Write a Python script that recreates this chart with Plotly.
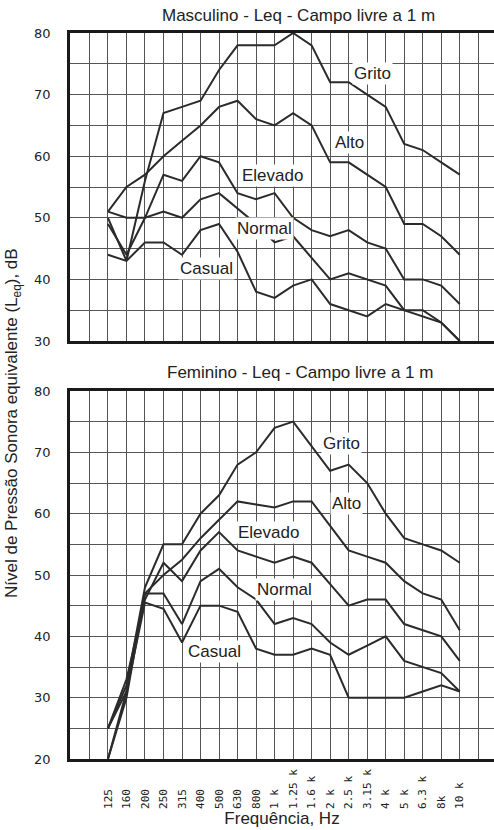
import plotly.graph_objects as go

freqs = ["125", "160", "200", "250", "315", "400", "500", "630", "800", "1 k",
         "1.25 k", "1.6 k", "2 k", "2.5 k", "3.15 k", "4 k", "5 k", "6.3 k", "8k", "10 k"]

# Masculino
m_grito   = [50, 43, 56, 67, 68, 69, 74, 78, 78, 78, 80, 78, 72, 72, 70, 68, 62, 61, 59, 57]
m_alto    = [51, 55, 57, 60, 62.5, 65, 68, 69, 66, 65, 67, 65, 59, 59, 57, 55, 49, 49, 47, 44]
m_elevado = [49, 44, 50, 57, 56, 60, 59, 54, 53, 54, 50, 48, 47, 48, 46, 45, 40, 40, 39, 36]
m_normal  = [51, 50, 50, 51, 50, 53, 54, 51.5, 49, 46, 47, 43.5, 40, 41, 40, 39, 35, 35, 33, 30]
m_casual  = [44, 43, 46, 46, 44, 48, 49, 44.5, 38, 37, 39, 40, 36, 35, 34, 36, 35, 34, 33, 30]

# Feminino
f_grito   = [25, 32, 48, 55, 55, 60, 63, 68, 70, 74, 75, 71, 67, 68, 65, 60, 56, 55, 54, 52]
f_alto    = [20, 31, 47, 50, 52.5, 56, 59, 62, 61.5, 61, 62, 62, 58, 54, 53, 52, 49, 47, 46, 41]
f_elevado = [25, 33, 46, 52, 49, 54, 57, 54, 53, 52, 53, 52, 48.5, 45, 46, 46, 42, 41, 40, 36]
f_normal  = [20, 30, 47, 47, 42, 49, 51, 48, 46, 42, 43, 42, 39, 37, 38.5, 40, 36, 35, 34, 31]
f_casual  = [25, 31, 45.5, 44.5, 39, 45, 45, 44, 38, 37, 37, 38, 37, 30, 30, 30, 30, 31, 32, 31]

series_names = ["Grito", "Alto", "Elevado", "Normal", "Casual"]
masc = [m_grito, m_alto, m_elevado, m_normal, m_casual]
fem = [f_grito, f_alto, f_elevado, f_normal, f_casual]

# label positions (x index, dB)
m_label_pos = [(14.3, 73.5), (13.06, 62.3), (8.9, 56.9), (8.47, 48.3), (5.34, 41.85)]
f_label_pos = [(12.63, 71.5), (12.9, 61.6), (8.69, 56.85), (9.55, 47.7), (5.77, 37.6)]

xidx = list(range(len(freqs)))

W, H = 494, 830
L, R, T, B = 70, 0, 33, 71
ph = H - T - B
top_dom = [(759 - 341) / ph, 1.0]
bot_dom = [0.0, (759 - 391) / ph]

fig = go.Figure()

line_col = "#2b2b2b"
for vals in masc:
    fig.add_trace(go.Scatter(x=xidx, y=vals, mode="lines", xaxis="x", yaxis="y",
                             line=dict(color=line_col, width=2), showlegend=False, hoverinfo="skip"))
for vals in fem:
    fig.add_trace(go.Scatter(x=xidx, y=vals, mode="lines", xaxis="x2", yaxis="y2",
                             line=dict(color=line_col, width=2), showlegend=False, hoverinfo="skip"))

grid_col = "#555555"
tick_font = dict(family="DejaVu Sans", size=13, color="#222")
xt_vals = [-2, -1] + xidx + [20, 21]
maxlen = max(len(f) for f in freqs)
padded = [f + "\u00a0" * (maxlen - len(f)) for f in freqs]
xt_text_bottom = ["", ""] + padded + ["", ""]

xcommon = dict(range=[-2.05, 20.85], tickmode="array", tickvals=xt_vals,
               showgrid=True, gridcolor=grid_col, gridwidth=1.4,
               showline=True, linecolor="#1a1a1a", linewidth=2.5, mirror=True,
               zeroline=False, ticks="")

txt_font = dict(family="Liberation Sans", size=17, color="#222")

fig.update_layout(
    width=W, height=H,
    margin=dict(l=L, r=R, t=T, b=B, pad=0),
    paper_bgcolor="white", plot_bgcolor="white",
    xaxis=dict(**xcommon, domain=[0, 1], anchor="y", ticktext=[""] * len(xt_vals),
               showticklabels=False),
    yaxis=dict(domain=top_dom, anchor="x", range=[30, 80],
               tickmode="array", tickvals=list(range(30, 81, 5)),
               ticktext=[str(v) if v % 10 == 0 else "" for v in range(30, 81, 5)],
               showgrid=True, gridcolor=grid_col, gridwidth=1.4,
               showline=True, linecolor="#1a1a1a", linewidth=2.5, zeroline=False,
               ticks="", tickfont=tick_font, ticklabelstandoff=14),
    xaxis2=dict(**xcommon, domain=[0, 1], anchor="y2", ticktext=xt_text_bottom,
                tickangle=-90, tickfont=dict(family="DejaVu Sans Mono", size=11, color="#222"),
                ticklabelstandoff=3,
                title=dict(text="Frequência, Hz", font=txt_font, standoff=4)),
    yaxis2=dict(domain=bot_dom, anchor="x2", range=[20, 80],
                tickmode="array", tickvals=list(range(20, 81, 5)),
                ticktext=[str(v) if v % 10 == 0 else "" for v in range(20, 81, 5)],
                showgrid=True, gridcolor=grid_col, gridwidth=1.4,
                showline=True, linecolor="#1a1a1a", linewidth=2.5, zeroline=False,
                ticks="", tickfont=tick_font, ticklabelstandoff=14),
)

anns = []
for name, (xx, yy) in zip(series_names, m_label_pos):
    anns.append(dict(x=xx, y=yy, xref="x", yref="y", text=name, showarrow=False,
                     font=txt_font, bgcolor="white", borderpad=1))
for name, (xx, yy) in zip(series_names, f_label_pos):
    anns.append(dict(x=xx, y=yy, xref="x2", yref="y2", text=name, showarrow=False,
                     font=txt_font, bgcolor="white", borderpad=1))

# subplot titles
anns.append(dict(x=(298 - L) / (W - L), y=1 + (T - 15) / ph, xref="paper", yref="paper",
                 xanchor="center", yanchor="middle",
                 text="Masculino - Leq - Campo livre a 1 m", showarrow=False, font=txt_font))
anns.append(dict(x=(300 - L) / (W - L), y=(759 - 372) / ph, xref="paper", yref="paper",
                 xanchor="center", yanchor="middle",
                 text="Feminino - Leq - Campo livre a 1 m", showarrow=False, font=txt_font))
# y axis title
anns.append(dict(x=(13 - L) / (W - L), y=(759 - 423) / ph, xref="paper", yref="paper",
                 xanchor="center", yanchor="middle",
                 text="Nível de Pressão Sonora equivalente (L<sub>eq</sub>), dB", showarrow=False,
                 textangle=-90, font=txt_font))

fig.update_layout(annotations=anns)

fig.write_html("out.html")
